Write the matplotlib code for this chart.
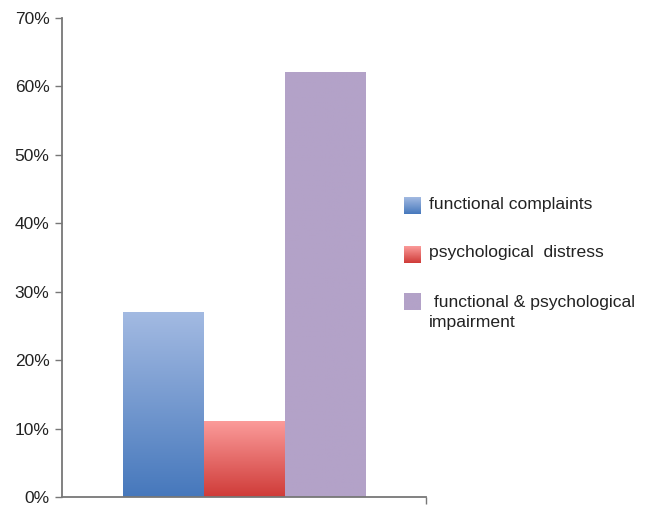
import matplotlib
matplotlib.use("Agg")
import matplotlib.pyplot as plt
import numpy as np
from matplotlib.colors import LinearSegmentedColormap

plt.rcParams['font.family'] = ['Liberation Sans', 'DejaVu Sans']

# data
labels = ['functional complaints', 'psychological  distress', ' functional & psychological\nimpairment']
values = [27, 11, 62]
# (bottom colour, top colour) of each bar's gradient
colours = [('#4678BC', '#A3BAE2'), ('#CF3B38', '#FB9B9A'), ('#B3A2C8', '#B3A2C8')]
yticks = [0, 10, 20, 30, 40, 50, 60, 70]

fig = plt.figure(figsize=(6.46, 5.05), dpi=100)
ax = fig.add_axes([62/646, 8/505, 364/646, 479/505])

grad = np.linspace(0, 1, 256).reshape(-1, 1)
x = np.arange(len(values))
bars = ax.bar(x, values, width=1.0, color='none', edgecolor='none')
for b, (lo, hi) in zip(bars, colours):
    cmap = LinearSegmentedColormap.from_list('g', [lo, hi])
    x0, w, h = b.get_x(), b.get_width(), b.get_height()
    ax.imshow(grad, extent=[x0, x0 + w, 0, h], origin='lower', aspect='auto',
              cmap=cmap, zorder=2)

half = 364 / 81 / 2
ax.set_xlim(1 - half, 1 + half)
ax.set_ylim(0, 70)

ax.set_yticks(yticks)
ax.set_yticklabels([f'{t}%' for t in yticks], fontsize=12.5, color='#222222')
ax.set_xticks([1 + half])
ax.set_xticklabels([])
ax.tick_params(axis='y', length=5, width=1, color='#777777', pad=4)
ax.tick_params(axis='x', length=5, width=1, color='#777777')
for s in ['top', 'right']:
    ax.spines[s].set_visible(False)
for s in ['left', 'bottom']:
    ax.spines[s].set_color('#777777')
    ax.spines[s].set_linewidth(1.3)
    ax.spines[s].set_zorder(3)

# legend with gradient swatches
sq_y = [197, 246, 293]
text_y = [205, 253, 312.5]
for (lo, hi), lab, sy, ty in zip(colours, labels, sq_y, text_y):
    sax = fig.add_axes([404/646, 1 - (sy + 17)/505, 17/646, 17/505])
    sax.imshow(grad, origin='lower', aspect='auto',
               cmap=LinearSegmentedColormap.from_list('g', [lo, hi]))
    sax.axis('off')
    fig.text(429/646, 1 - ty/505, lab, fontsize=12.6, color='#222222',
             va='center', ha='left', linespacing=1.4)

fig.savefig('out.png', dpi=100)
